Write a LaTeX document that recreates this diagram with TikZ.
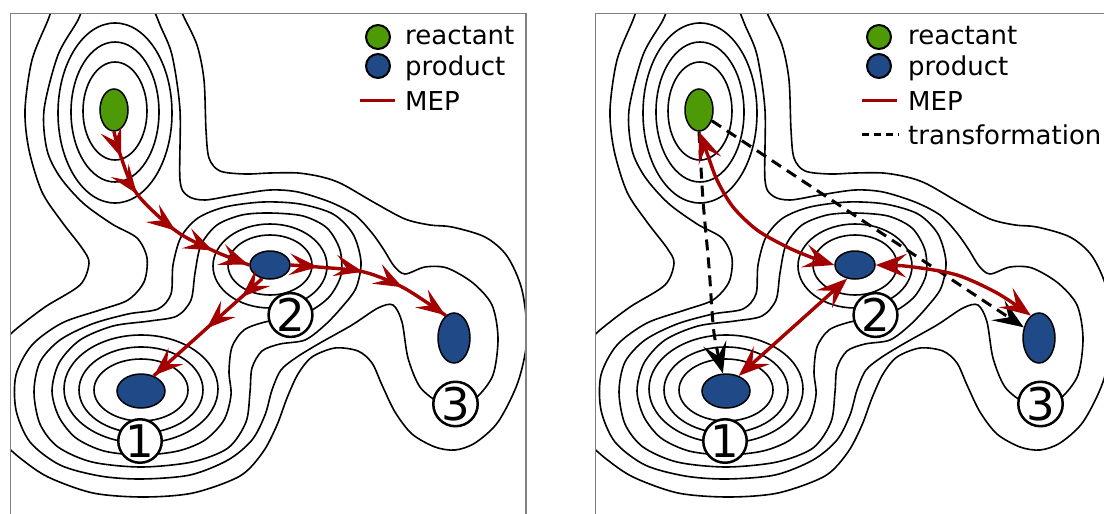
\documentclass[tikz,border=0pt]{standalone}
\usepackage{fontspec}
\setmainfont{DejaVu Sans}
\usetikzlibrary{arrows.meta, shapes.geometric, decorations.markings}

\definecolor{mepred}{RGB}{164,0,0}
\definecolor{reactgreen}{RGB}{78,154,6}
\definecolor{prodblue}{RGB}{32,74,135}
\definecolor{framegray}{RGB}{128,128,128}

\tikzset{
  contour/.style={draw=black, line width=1.6pt},
  panelframe/.style={draw=framegray, line width=1.5pt},
  mep/.style={draw=mepred, line width=3.4pt},
  transf/.style={draw=black, line width=3pt, dash pattern=on 11pt off 7pt},
  bigtip/.tip={Stealth[length=31pt,width=24pt,inset=13pt,line width=0pt]},
  redtip/.tip={Stealth[length=29pt,width=22pt,inset=12pt,line width=0pt,mepred]},
  reactnode/.style={ellipse, draw=black, line width=1.5pt, fill=reactgreen, inner sep=0},
  prodnode/.style={ellipse, draw=black, line width=1.5pt, fill=prodblue, inner sep=0},
  sitelabel/.style={circle, draw=black, fill=white, line width=2.5pt, minimum size=42pt, inner sep=0, font=\fontsize{45}{45}\selectfont},
  legdot/.style={circle, draw=black, line width=2pt, minimum size=24pt, inner sep=0},
  legtext/.style={anchor=base west, inner sep=0, font=\fontsize{26}{30}\selectfont},
}

% energy landscape: level curves around the four minima
\newcommand\pescontours{%
  % reactant basin
  \draw[contour] (115,111) ellipse [x radius=32pt, y radius=49pt];
  \draw[contour] (115,112) ellipse [x radius=44pt, y radius=70pt];
  \draw[contour] (115,113) ellipse [x radius=57pt, y radius=90pt];
  % basin 1
  \draw[contour] (141,390) ellipse [x radius=47pt, y radius=31pt];
  \draw[contour] (141,390) ellipse [x radius=62pt, y radius=43pt];
  \draw[contour] (141,389) ellipse [x radius=77pt, y radius=54pt];
  % basin 2
  \draw[contour] (270,265) ellipse [x radius=42pt, y radius=30pt];
  \draw[contour] (270,266) ellipse [x radius=57pt, y radius=42pt];
  % basins 1+2 joined
  \draw[contour] plot[smooth cycle] coordinates {
    (270,213) (303,216) (327,228) (340,250) (341,275) (330,296) (312,310)
    (290,318) (265,322) (244,330) (232,347) (229,372) (231,395) (224,420)
    (205,440) (178,451) (141,455) (104,451) (76,438) (59,417) (52,391)
    (59,363) (80,340) (113,326) (150,321) (177,316) (191,300) (195,273)
    (201,245) (217,225) (242,215)};
  \draw[contour] plot[smooth cycle] coordinates {
    (263,202) (300,204) (333,214) (353,234) (361,262) (356,288) (342,307)
    (325,325) (305,340) (280,344) (262,351) (252,368) (250,392) (246,422)
    (228,448) (192,462) (141,467) (92,462) (58,447) (40,424) (34,392)
    (40,362) (60,340) (92,324) (128,314) (158,309) (171,294) (173,265)
    (181,237) (198,218) (225,207)};
  % all basins joined, open at the top edge
  \draw[contour] plot[smooth] coordinates {
    (85,0) (78,20) (58,55) (44,110) (47,150) (60,177) (83,203) (112,224)
    (137,238) (147,258) (144,282) (128,300) (100,310) (62,323) (32,345)
    (16,375) (16,410) (30,442) (60,465) (100,476) (141,479) (190,475)
    (228,460) (252,440) (265,415) (272,390) (281,370) (297,357) (320,343)
    (352,325) (378,308) (393,305) (402,322) (408,358) (420,387) (440,403)
    (458,406) (476,398) (493,375) (498,338) (492,305) (473,283) (447,268)
    (425,267) (405,274) (394,266) (384,250) (372,233) (355,215) (330,202)
    (298,192) (270,190) (235,195) (205,200) (188,196) (180,180) (180,110)
    (172,55) (160,25) (150,0)};
  % outermost level
  \draw[contour] plot[smooth] coordinates {
    (178,0) (183,15) (197,45) (204,80) (206,130) (209,158) (220,171)
    (245,174) (270,173) (298,173) (322,177) (342,184) (375,203) (405,219)
    (430,225) (452,227) (485,237) (507,256) (522,290) (527,338) (518,382)
    (498,422) (475,443) (455,450) (435,447) (412,434) (395,412) (382,385)
    (372,363) (358,351) (335,348) (312,357) (298,374) (287,398) (277,425)
    (263,452) (240,476) (193,493) (143,497) (93,493) (48,477) (20,458) (0,440)};
  \draw[contour] plot[smooth] coordinates {
    (55,0) (48,20) (32,60) (25,110) (29,150) (42,192) (62,222) (82,248)
    (89,263) (80,285) (45,307) (15,330) (0,345)};
}

\begin{document}
\begin{tikzpicture}[x=1pt,y=-1pt]
\useasboundingbox (0,0) rectangle (1104,514);
\fill[white] (0,0) rectangle (1104,514);

% ---------- level curves of both panels ----------
\begin{scope}
  \clip (10.5,13.5) rectangle (526,530);
  \pescontours
\end{scope}
\begin{scope}[xshift=585pt]
  \clip (10.5,13.5) rectangle (530,530);
  \pescontours
\end{scope}
\draw[panelframe] (10.5,13.5) rectangle (526,530);
\draw[panelframe] (595.5,13.5) rectangle (1115,530);

% ---------- left panel: states ----------
\node[reactnode, minimum width=28pt, minimum height=42pt] (reactL) at (114,110) {};
\node[prodnode, minimum width=40pt, minimum height=28pt] (twoL) at (270,265) {};
\node[prodnode, minimum width=48pt, minimum height=34pt] (oneL) at (141,391) {};
\node[prodnode, minimum width=32pt, minimum height=50pt] (threeL) at (454,338) {};

% minimum energy paths with direction marks
\coordinate (la1) at (121,157);
\coordinate (la2) at (137,194);
\coordinate (la3) at (176,231);
\coordinate (la4) at (214,251);
\draw[mep, postaction={decorate}, decoration={markings,
    mark=at position 0.13 with {\arrow{redtip}},
    mark=at position 0.33 with {\arrow{redtip}},
    mark=at position 0.595 with {\arrow{redtip}},
    mark=at position 0.805 with {\arrow{redtip}},
    mark=at position 0.995 with {\arrow{redtip}}}]
  plot[smooth] coordinates {(reactL.south) (la1) (la2) (la3) (la4) (twoL.west)};

\coordinate (lb1) at (318,267);
\coordinate (lb2) at (364,272);
\coordinate (lb3) at (404,288);
\draw[mep, postaction={decorate}, decoration={markings,
    mark=at position 0.165 with {\arrow{redtip}},
    mark=at position 0.435 with {\arrow{redtip}},
    mark=at position 0.69 with {\arrow{redtip}},
    mark=at position 0.995 with {\arrow{redtip}}}]
  plot[smooth] coordinates {(twoL.east) (lb1) (lb2) (lb3) (threeL.110)};

\draw[mep, postaction={decorate}, decoration={markings,
    mark=at position 0.19 with {\arrow{redtip}},
    mark=at position 0.51 with {\arrow{redtip}},
    mark=at position 0.995 with {\arrow{redtip}}}]
  (twoL.240) -- (oneL.50);

\node[sitelabel] (labOneL) at (140,441) {1};
\node[sitelabel] (labTwoL) at (290.5,315) {2};
\node[sitelabel] (labThreeL) at (455.5,404) {3};

% legend
\node[legdot, fill=reactgreen] (legReactL) at (378,37) {};
\node[legdot, fill=prodblue] (legProdL) at (378,66) {};
\coordinate (legMepLa) at (360,100);
\coordinate (legMepLb) at (395,100);
\draw[mep, line width=3pt] (legMepLa) -- (legMepLb);
\node[legtext] (txtReactL) at (405,45) {reactant};
\node[legtext] (txtProdL) at (405,75) {product};
\node[legtext] (txtMepL) at (405,110) {MEP};

% ---------- right panel: states ----------
\node[reactnode, minimum width=28pt, minimum height=42pt] (reactR) at (699,110) {};
\node[prodnode, minimum width=40pt, minimum height=28pt] (twoR) at (855,265) {};
\node[prodnode, minimum width=48pt, minimum height=34pt] (oneR) at (726,391) {};
\node[prodnode, minimum width=32pt, minimum height=50pt] (threeR) at (1039,338) {};

% transformations (dashed)
\coordinate (ta1) at (703,200);
\coordinate (ta2) at (709,267);
\coordinate (ta3) at (714,333);
\draw[transf, -bigtip]
  plot[smooth] coordinates {(reactR.south) (ta1) (ta2) (ta3) (oneR.100)};
\draw[transf, -bigtip] (reactR.-40) -- (threeR.145);

% minimum energy paths, both ways
\coordinate (ra1) at (707,153);
\coordinate (ra2) at (717,180);
\coordinate (ra3) at (733,207);
\coordinate (ra4) at (757,230);
\coordinate (ra5) at (787,247);
\coordinate (ra6) at (813,258);
\draw[mep, bigtip-bigtip]
  plot[smooth] coordinates {(reactR.south) (ra1) (ra2) (ra3) (ra4) (ra5) (ra6) (twoR.west)};
\draw[mep, bigtip-bigtip] (twoR.240) -- (oneR.50);
\coordinate (rb1) at (913,267);
\coordinate (rb2) at (957,275);
\coordinate (rb3) at (997,293);
\draw[mep, bigtip-bigtip]
  plot[smooth] coordinates {(twoR.east) (rb1) (rb2) (rb3) (threeR.110)};

\node[sitelabel] (labOneR) at (725,441) {1};
\node[sitelabel] (labTwoR) at (875.5,315) {2};
\node[sitelabel] (labThreeR) at (1040.5,404) {3};

% legend
\node[legdot, fill=reactgreen] (legReactR) at (879,37) {};
\node[legdot, fill=prodblue] (legProdR) at (879,66) {};
\coordinate (legMepRa) at (862,100);
\coordinate (legMepRb) at (897,100);
\draw[mep, line width=3pt] (legMepRa) -- (legMepRb);
\coordinate (legTrRa) at (862,134);
\coordinate (legTrRb) at (899,134);
\draw[draw=black, line width=3pt, dash pattern=on 7pt off 5pt] (legTrRa) -- (legTrRb);
\node[legtext] (txtReactR) at (908,45) {reactant};
\node[legtext] (txtProdR) at (908,75) {product};
\node[legtext] (txtMepR) at (908,110) {MEP};
\node[legtext] (txtTrR) at (908,144) {transformation};
\end{tikzpicture}
\end{document}
